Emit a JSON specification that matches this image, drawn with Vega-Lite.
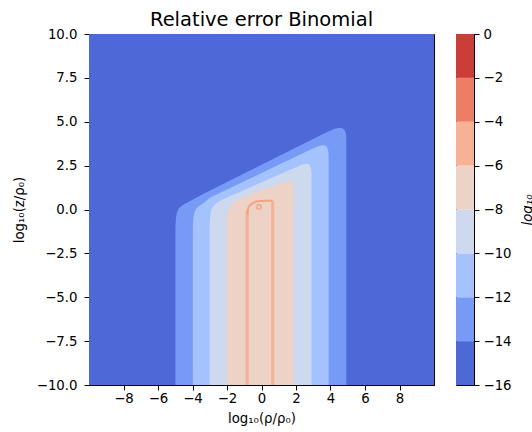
{
  "$schema": "https://vega.github.io/schema/vega-lite/v6.json",
  "autosize": {"type": "pad"},
  "padding": {"left": 11, "top": 9, "right": 0, "bottom": 5},
  "bounds": "flush",
  "spacing": 22,
  "config": {
    "view": {"stroke": "black", "strokeWidth": 1},
    "axis": {"grid": false, "domainColor": "black", "tickColor": "black", "tickSize": 5, "labelFont": "DejaVu Sans", "labelFontSize": 13.3, "labelColor": "black", "titleFont": "DejaVu Sans", "titleFontSize": 13.3, "titleFontWeight": "normal", "titleColor": "black", "labelPadding": 4}
  },
  "datasets": {
    "bands": [
      {"piece": "a15", "level": -15, "x": -10, "y": 10},
      {"piece": "a15", "level": -15, "x": 10, "y": 10},
      {"piece": "b13", "level": -13, "x": -4.99, "y": -1.0},
      {"piece": "b13", "level": -13, "x": -4.96, "y": -0.5},
      {"piece": "b13", "level": -13, "x": -4.9, "y": -0.15},
      {"piece": "b13", "level": -13, "x": -4.78, "y": 0.08},
      {"piece": "b13", "level": -13, "x": -4.6, "y": 0.23},
      {"piece": "b13", "level": -13, "x": -4.35, "y": 0.37},
      {"piece": "b13", "level": -13, "x": -4.0, "y": 0.56},
      {"piece": "b13", "level": -13, "x": -3.5, "y": 0.83},
      {"piece": "b13", "level": -13, "x": -2.0, "y": 1.57},
      {"piece": "b13", "level": -13, "x": 0, "y": 2.55},
      {"piece": "b13", "level": -13, "x": 2.0, "y": 3.53},
      {"piece": "b13", "level": -13, "x": 3.8, "y": 4.42},
      {"piece": "b13", "level": -13, "x": 4.25, "y": 4.6},
      {"piece": "b13", "level": -13, "x": 4.5, "y": 4.66},
      {"piece": "b13", "level": -13, "x": 4.7, "y": 4.63},
      {"piece": "b13", "level": -13, "x": 4.83, "y": 4.52},
      {"piece": "b13", "level": -13, "x": 4.9, "y": 4.3},
      {"piece": "b13", "level": -13, "x": 4.92, "y": 4.0},
      {"piece": "c11", "level": -11, "x": -3.98, "y": -1.0},
      {"piece": "c11", "level": -11, "x": -3.95, "y": -0.5},
      {"piece": "c11", "level": -11, "x": -3.89, "y": -0.15},
      {"piece": "c11", "level": -11, "x": -3.77, "y": 0.07},
      {"piece": "c11", "level": -11, "x": -3.6, "y": 0.22},
      {"piece": "c11", "level": -11, "x": -3.35, "y": 0.37},
      {"piece": "c11", "level": -11, "x": -3.0, "y": 0.67},
      {"piece": "c11", "level": -11, "x": -2.0, "y": 1.14},
      {"piece": "c11", "level": -11, "x": 0, "y": 2.08},
      {"piece": "c11", "level": -11, "x": 2.0, "y": 3.02},
      {"piece": "c11", "level": -11, "x": 3.2, "y": 3.58},
      {"piece": "c11", "level": -11, "x": 3.45, "y": 3.66},
      {"piece": "c11", "level": -11, "x": 3.65, "y": 3.66},
      {"piece": "c11", "level": -11, "x": 3.78, "y": 3.58},
      {"piece": "c11", "level": -11, "x": 3.86, "y": 3.4},
      {"piece": "c11", "level": -11, "x": 3.89, "y": 3.1},
      {"piece": "d09", "level": -9, "x": -3.0, "y": -0.8},
      {"piece": "d09", "level": -9, "x": -2.97, "y": -0.3},
      {"piece": "d09", "level": -9, "x": -2.91, "y": 0.0},
      {"piece": "d09", "level": -9, "x": -2.8, "y": 0.2},
      {"piece": "d09", "level": -9, "x": -2.6, "y": 0.37},
      {"piece": "d09", "level": -9, "x": -2.35, "y": 0.52},
      {"piece": "d09", "level": -9, "x": -2.0, "y": 0.69},
      {"piece": "d09", "level": -9, "x": 0, "y": 1.55},
      {"piece": "d09", "level": -9, "x": 2.3, "y": 2.54},
      {"piece": "d09", "level": -9, "x": 2.5, "y": 2.6},
      {"piece": "d09", "level": -9, "x": 2.68, "y": 2.6},
      {"piece": "d09", "level": -9, "x": 2.8, "y": 2.52},
      {"piece": "d09", "level": -9, "x": 2.87, "y": 2.35},
      {"piece": "d09", "level": -9, "x": 2.9, "y": 2.1},
      {"piece": "e07", "level": -7, "x": -2.01, "y": -0.8},
      {"piece": "e07", "level": -7, "x": -1.98, "y": -0.35},
      {"piece": "e07", "level": -7, "x": -1.93, "y": -0.05},
      {"piece": "e07", "level": -7, "x": -1.82, "y": 0.17},
      {"piece": "e07", "level": -7, "x": -1.64, "y": 0.35},
      {"piece": "e07", "level": -7, "x": -1.4, "y": 0.52},
      {"piece": "e07", "level": -7, "x": -1.0, "y": 0.72},
      {"piece": "e07", "level": -7, "x": 0, "y": 1.12},
      {"piece": "e07", "level": -7, "x": 1.5, "y": 1.6},
      {"piece": "e07", "level": -7, "x": 1.65, "y": 1.66},
      {"piece": "e07", "level": -7, "x": 1.77, "y": 1.62},
      {"piece": "e07", "level": -7, "x": 1.84, "y": 1.48},
      {"piece": "e07", "level": -7, "x": 1.87, "y": 1.25},
      {"piece": "f05", "level": -5, "x": -0.92, "y": -0.1},
      {"piece": "f05", "level": -5, "x": -0.74, "y": 0.1},
      {"piece": "g05", "level": -5, "x": 0.56, "y": 0.45},
      {"piece": "g05", "level": -5, "x": 0.74, "y": 0.5}
    ],
    "arch": [
      {"x": -0.82, "y": -0.3},
      {"x": -0.76, "y": 0.1},
      {"x": -0.6, "y": 0.3},
      {"x": -0.4, "y": 0.42},
      {"x": -0.1, "y": 0.48},
      {"x": 0.3, "y": 0.5},
      {"x": 0.65, "y": 0.5}
    ],
    "blob": [
      {"x": -0.15, "y": 0.15}
    ],
    "cbar": [
      {"level": -15, "lo": -16, "hi": -14},
      {"level": -13, "lo": -14, "hi": -12},
      {"level": -11, "lo": -12, "hi": -10},
      {"level": -9, "lo": -10, "hi": -8},
      {"level": -7, "lo": -8, "hi": -6},
      {"level": -5, "lo": -6, "hi": -4},
      {"level": -3, "lo": -4, "hi": -2},
      {"level": -1, "lo": -2, "hi": 0}
    ]
  },
  "hconcat": [
    {
      "width": 345,
      "height": 351,
      "title": {"text": "Relative error Binomial", "fontSize": 19.5, "font": "DejaVu Sans", "fontWeight": "normal", "color": "black", "frame": "group", "anchor": "middle", "offset": -3},
      "layer": [
        {
          "data": {"name": "bands"},
          "mark": {"type": "area", "clip": true, "interpolate": "linear"},
          "encoding": {
            "x": {"field": "x", "type": "quantitative", "scale": {"domain": [-10, 10], "nice": false, "zero": false},
                  "axis": {"values": [-8, -6, -4, -2, 0, 2, 4, 6, 8], "title": "log₁₀(ρ/ρ₀)", "titlePadding": 7, "labelPadding": 1}},
            "y": {"field": "y", "type": "quantitative", "stack": null, "scale": {"domain": [-10, 10], "nice": false, "zero": false},
                  "axis": {"values": [-10, -7.5, -5, -2.5, 0, 2.5, 5, 7.5, 10], "format": ".1f", "title": "log₁₀(z/ρ₀)", "titlePadding": 10, "labelPadding": 7}},
            "y2": {"datum": -10},
            "detail": {"field": "piece"},
            "color": {"field": "level", "type": "quantitative",
              "scale": {"type": "quantize", "domain": [-16, 0], "nice": false,
                "range": ["#4d68d7", "#779af7", "#a3c2fe", "#ccd9ee", "#ecd3c5", "#f7b194", "#ec7f63", "#cb3e38"]},
              "legend": null}
          }
        },
        {
          "data": {"name": "arch"},
          "mark": {"type": "line", "clip": true, "color": "#f4a283", "strokeWidth": 2, "interpolate": "monotone"},
          "encoding": {
            "x": {"field": "x", "type": "quantitative"},
            "y": {"field": "y", "type": "quantitative"}
          }
        },
        {
          "data": {"name": "blob"},
          "mark": {"type": "point", "clip": true, "color": "#f4a283", "size": 20, "strokeWidth": 2},
          "encoding": {
            "x": {"field": "x", "type": "quantitative"},
            "y": {"field": "y", "type": "quantitative"}
          }
        }
      ]
    },
    {
      "width": 18,
      "height": 351,
      "data": {"name": "cbar"},
      "mark": {"type": "rect"},
      "encoding": {
        "y": {"field": "lo", "type": "quantitative", "scale": {"domain": [-16, 0], "nice": false, "zero": false},
              "axis": {"orient": "right", "values": [-16, -14, -12, -10, -8, -6, -4, -2, 0], "format": "d", "title": "log₁₀", "titleAngle": 270, "titleFontStyle": "italic", "titlePadding": 23, "labelPadding": 4}},
        "y2": {"field": "hi"},
        "color": {"field": "level", "type": "quantitative",
          "scale": {"type": "quantize", "domain": [-16, 0], "nice": false,
            "range": ["#4d68d7", "#779af7", "#a3c2fe", "#ccd9ee", "#ecd3c5", "#f7b194", "#ec7f63", "#cb3e38"]},
          "legend": null}
      }
    }
  ]
}
